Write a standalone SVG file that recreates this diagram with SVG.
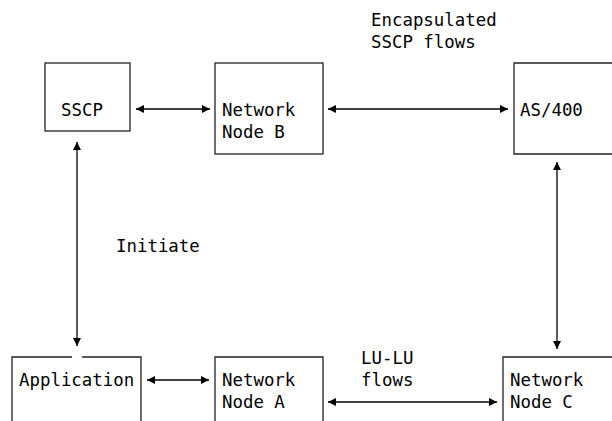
<svg xmlns="http://www.w3.org/2000/svg" width="612" height="421" viewBox="0 0 612 421">
<style>
text{font-family:"DejaVu Sans Mono","Liberation Mono",monospace;font-size:17.4px;fill:#000}
.box{fill:none;stroke:#222;stroke-width:1.3}
.con{stroke:#000;stroke-width:1.3;fill:none;marker-start:url(#ah);marker-end:url(#ah)}
</style>
<defs>
<marker id="ah" viewBox="0 0 10 10" refX="10" refY="5" markerWidth="8" markerHeight="8" markerUnits="userSpaceOnUse" orient="auto-start-reverse">
<path d="M0,0 L10,5 L0,10 Z" fill="#000"/>
</marker>
</defs>
<rect width="612" height="421" fill="#fff"/>
<g id="sscp">
<rect class="box" x="45" y="63" width="85" height="68"/>
<text x="61" y="116">SSCP</text>
</g>
<g id="nnb">
<rect class="box" x="215" y="63" width="108" height="91"/>
<text x="222" y="116">Network</text>
<text x="222" y="138">Node B</text>
</g>
<g id="as400">
<path class="box" d="M620,63 H514 V154 H620"/>
<text x="520" y="116">AS/400</text>
</g>
<g id="application">
<path class="box" d="M72,357 H12 V430 M82,357 H141 V430"/>
<text x="19" y="386">Application</text>
</g>
<g id="nna">
<path class="box" d="M215,430 V357 H323 V430"/>
<text x="222" y="386">Network</text>
<text x="222" y="408">Node A</text>
</g>
<g id="nnc">
<path class="box" d="M503,430 V357 H620"/>
<text x="510" y="386">Network</text>
<text x="510" y="408">Node C</text>
</g>
<g id="labels">
<text x="371" y="26">Encapsulated</text>
<text x="371" y="48">SSCP flows</text>
<text x="116" y="252">Initiate</text>
<text x="361" y="364">LU-LU</text>
<text x="361" y="386">flows</text>
</g>
<g id="connectors">
<line class="con" x1="136" y1="109" x2="210" y2="109"/>
<line class="con" x1="328" y1="109" x2="508" y2="109"/>
<line class="con" x1="77" y1="142" x2="77" y2="346"/>
<line class="con" x1="557" y1="162" x2="557" y2="349"/>
<line class="con" x1="147" y1="380" x2="209" y2="380"/>
<line class="con" x1="328" y1="402" x2="497" y2="402"/>
</g>
</svg>
